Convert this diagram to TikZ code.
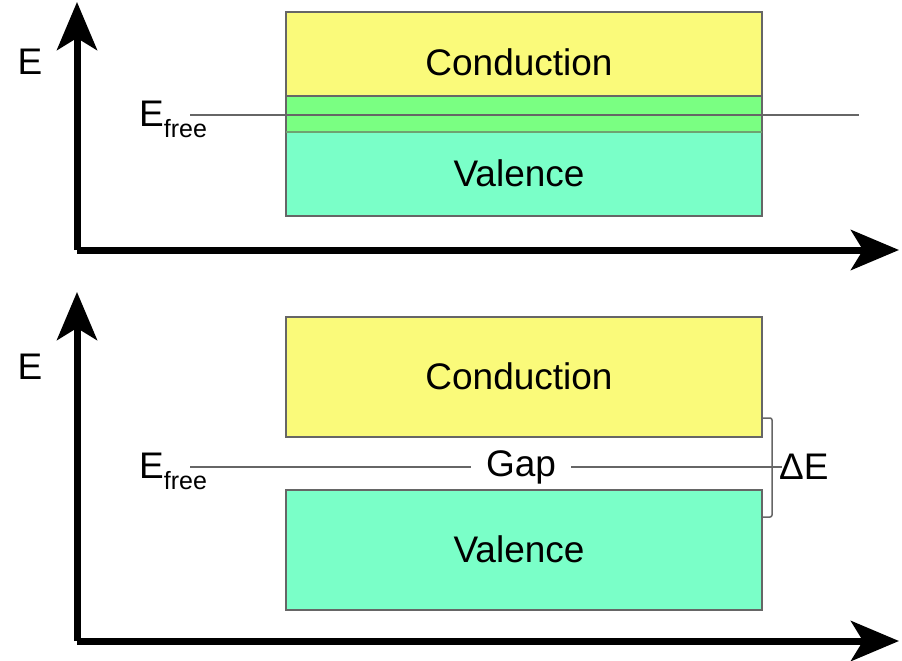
\documentclass[tikz,border=0pt]{standalone}
\usepackage{fontspec}
\setmainfont{Liberation Sans}
\usetikzlibrary{arrows.meta}
\definecolor{condy}{RGB}{250,250,122}
\definecolor{valc}{RGB}{122,255,200}
\definecolor{ovlg}{RGB}{122,255,130}
\definecolor{bordg}{RGB}{102,102,102}
\begin{document}
\begin{tikzpicture}[x=1pt,y=-1pt,
  axis/.style={line width=7pt,-{Stealth[length=48pt,width=40pt,inset=12pt]}},
  band/.style={draw=bordg,line width=2pt},
  lvl/.style={draw=bordg,line width=1.5pt},
  big/.style={font=\fontsize{37}{40}\selectfont,inner sep=0pt},
  efree/.style={inner sep=0pt,anchor=base west}]
\useasboundingbox (0,0) rectangle (902,661);
% ---------- top panel ----------
\coordinate (o1) at (77,250);
\coordinate (y1) at (77,2);
\coordinate (x1) at (899,250);
\draw[axis] (o1) -- (y1);
\draw[axis] (o1) -- (x1);
\node[big] (E1) at (30,62) {E};
\fill[condy] (286,12) rectangle (762,96);
\fill[ovlg] (286,96) rectangle (762,132);
\fill[valc] (286,132) rectangle (762,216);
\node[band,fill=none,minimum width=476pt,minimum height=120pt,inner sep=0pt] (c1) at (524,72) {};
\node[band,fill=none,minimum width=476pt,minimum height=120pt,inner sep=0pt] (v1) at (524,156) {};
\draw[bordg!60!ovlg,line width=2pt] (286,132) -- (762,132);
\node[big] (ct1) at (519,62) {Conduction};
\node[big] (vt1) at (519,173) {Valence};
\coordinate (fa1) at (190,115);
\coordinate (fb1) at (859,115);
\draw[lvl] (fa1) -- (fb1);
\node[efree] (ef1) at (139,126) {\fontsize{37}{40}\selectfont E\raisebox{-11pt}{\fontsize{25}{28}\selectfont free}};
% ---------- bottom panel ----------
\coordinate (o2) at (77,641);
\coordinate (y2) at (77,292);
\coordinate (x2) at (899,641);
\draw[axis] (o2) -- (y2);
\draw[axis] (o2) -- (x2);
\node[big] (E2) at (30,367) {E};
\node[band,fill=condy,minimum width=476pt,minimum height=120pt,inner sep=0pt] (c2) at (524,377) {};
\node[band,fill=valc,minimum width=476pt,minimum height=120pt,inner sep=0pt] (v2) at (524,550) {};
\node[big] (ct2) at (519,376) {Conduction};
\node[big] (vt2) at (519,549) {Valence};
\coordinate (fa2) at (190,467);
\coordinate (fb2) at (772,467);
\draw[lvl] (fa2) -- (fb2);
\node[big,fill=white,inner xsep=15pt,inner ysep=2pt] (gap) at (521,467) {Gap};
\node[efree] (ef2) at (139,478) {\fontsize{37}{40}\selectfont E\raisebox{-11pt}{\fontsize{25}{28}\selectfont free}};
\draw[lvl,rounded corners=2pt] (c2.south east |- 0,418) -- (772,418) -- (772,517) -- (v2.north east |- 0,517);
\draw[lvl] (fb2) -- (782,467);
\node[big,anchor=west] (dE) at (779,467) {ΔE};
\end{tikzpicture}
\end{document}
